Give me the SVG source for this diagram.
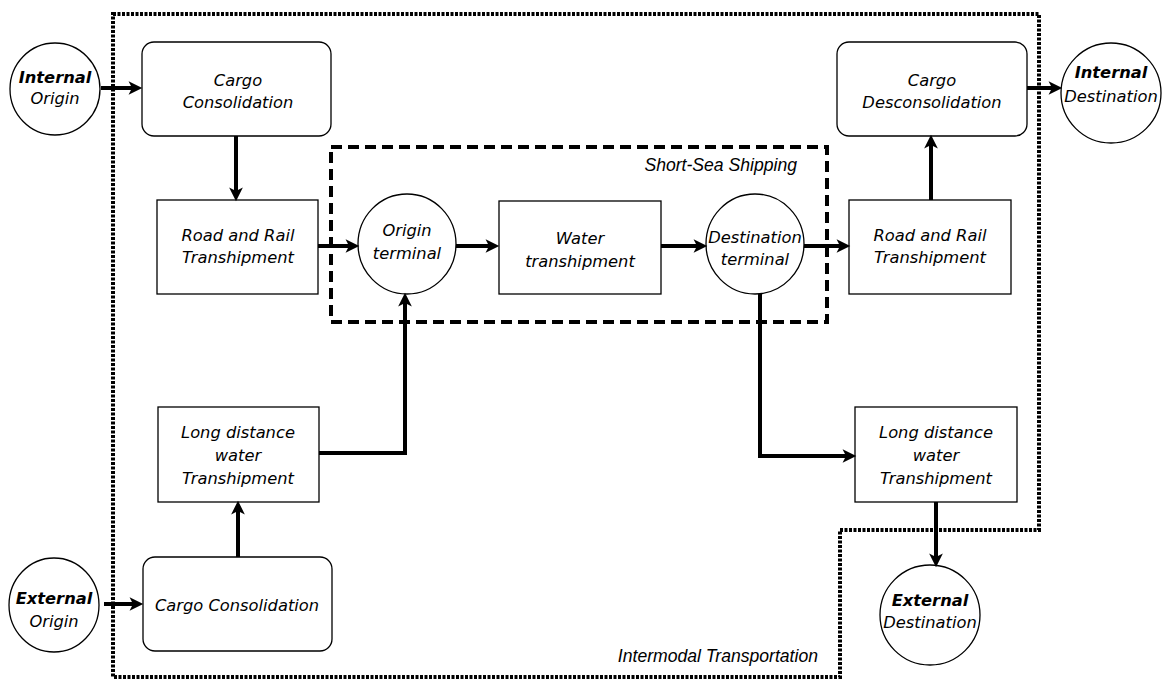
<svg xmlns="http://www.w3.org/2000/svg" width="1162" height="679" viewBox="0 0 1162 679">
<defs>
<style>
.box{fill:#fff;stroke:#000;stroke-width:1.3}
.t{font-family:"DejaVu Sans",sans-serif;font-style:italic;font-size:16.3px;text-anchor:middle;fill:#000}
.b{font-weight:bold}
.lab{font-family:"Liberation Sans",Arial,sans-serif;font-style:italic;font-size:17.6px;text-anchor:end;fill:#000}
.c{fill:none;stroke:#000;stroke-width:4;marker-end:url(#ah)}
</style>
<marker id="ah" markerUnits="userSpaceOnUse" markerWidth="16" markerHeight="16" viewBox="0 0 14 14" refX="4" refY="7" orient="auto">
<path d="M1,1 L13,7 L1,13 L4,7 Z" fill="#000"/>
</marker>
</defs>
<rect width="1162" height="679" fill="#fff"/>
<g id="boundaries">
<path d="M113,14 H1039 V530 H840 V677 H113 Z" fill="none" stroke="#000" stroke-width="4" stroke-dasharray="3 1.5"/>
<rect x="331" y="147" width="496" height="175" fill="none" stroke="#000" stroke-width="4" stroke-dasharray="11 6"/>
<text class="lab" x="797" y="171">Short-Sea Shipping</text>
<text class="lab" x="818" y="662">Intermodal Transportation</text>
</g>
<g id="internal-origin"><ellipse class="box" cx="55" cy="89" rx="45" ry="46"/><text class="t b" x="55" y="83">Internal</text><text class="t" x="55" y="104">Origin</text></g>
<g id="cargo-consolidation-top"><rect class="box" x="142" y="42" width="189" height="94" rx="12"/><text class="t" x="238" y="86">Cargo</text><text class="t" x="238" y="108">Consolidation</text></g>
<g id="road-rail-left"><rect class="box" x="157" y="200" width="161" height="94"/><text class="t" x="238" y="241">Road and Rail</text><text class="t" x="238" y="263">Transhipment</text></g>
<g id="origin-terminal"><ellipse class="box" cx="407" cy="244" rx="49" ry="50"/><text class="t" x="407" y="236">Origin</text><text class="t" x="407" y="259">terminal</text></g>
<g id="water-transhipment"><rect class="box" x="499" y="201" width="162" height="93"/><text class="t" x="580" y="244">Water</text><text class="t" x="580" y="267">transhipment</text></g>
<g id="destination-terminal"><ellipse class="box" cx="755" cy="244" rx="49" ry="50"/><text class="t" x="755" y="243">Destination</text><text class="t" x="755" y="265">terminal</text></g>
<g id="road-rail-right"><rect class="box" x="849" y="200" width="162" height="94"/><text class="t" x="930" y="241">Road and Rail</text><text class="t" x="930" y="263">Transhipment</text></g>
<g id="cargo-desconsolidation"><rect class="box" x="837" y="42" width="190" height="94" rx="12"/><text class="t" x="932" y="86">Cargo</text><text class="t" x="932" y="108">Desconsolidation</text></g>
<g id="internal-destination"><ellipse class="box" cx="1111" cy="93" rx="50" ry="50"/><text class="t b" x="1111" y="78">Internal</text><text class="t" x="1111" y="102">Destination</text></g>
<g id="long-distance-left"><rect class="box" x="158" y="407" width="161" height="95"/><text class="t" x="238" y="438">Long distance</text><text class="t" x="238" y="461">water</text><text class="t" x="238" y="484">Transhipment</text></g>
<g id="cargo-consolidation-bottom"><rect class="box" x="143" y="557" width="189" height="94" rx="12"/><text class="t" x="237" y="611">Cargo Consolidation</text></g>
<g id="external-origin"><ellipse class="box" cx="54" cy="605" rx="45" ry="47"/><text class="t b" x="54" y="604">External</text><text class="t" x="54" y="627">Origin</text></g>
<g id="long-distance-right"><rect class="box" x="855" y="407" width="162" height="95"/><text class="t" x="936" y="438">Long distance</text><text class="t" x="936" y="461">water</text><text class="t" x="936" y="484">Transhipment</text></g>
<g id="external-destination"><ellipse class="box" cx="930" cy="615" rx="50" ry="50"/><text class="t b" x="930" y="606">External</text><text class="t" x="930" y="628">Destination</text></g>
<g id="connectors">
<path class="c" d="M101,88 H132"/>
<path class="c" d="M236,136 V191"/>
<path class="c" d="M318,246 H349"/>
<path class="c" d="M456,246 H489"/>
<path class="c" d="M661,246 H697"/>
<path class="c" d="M804,246 H840"/>
<path class="c" d="M931,200 V145"/>
<path class="c" d="M1027,88 H1052"/>
<path class="c" d="M319,453 H405 V303"/>
<path class="c" d="M238,557 V511"/>
<path class="c" d="M104,604 H133"/>
<path class="c" d="M760,294 V456 H846"/>
<path class="c" d="M936,502 V557"/>
</g>
</svg>
